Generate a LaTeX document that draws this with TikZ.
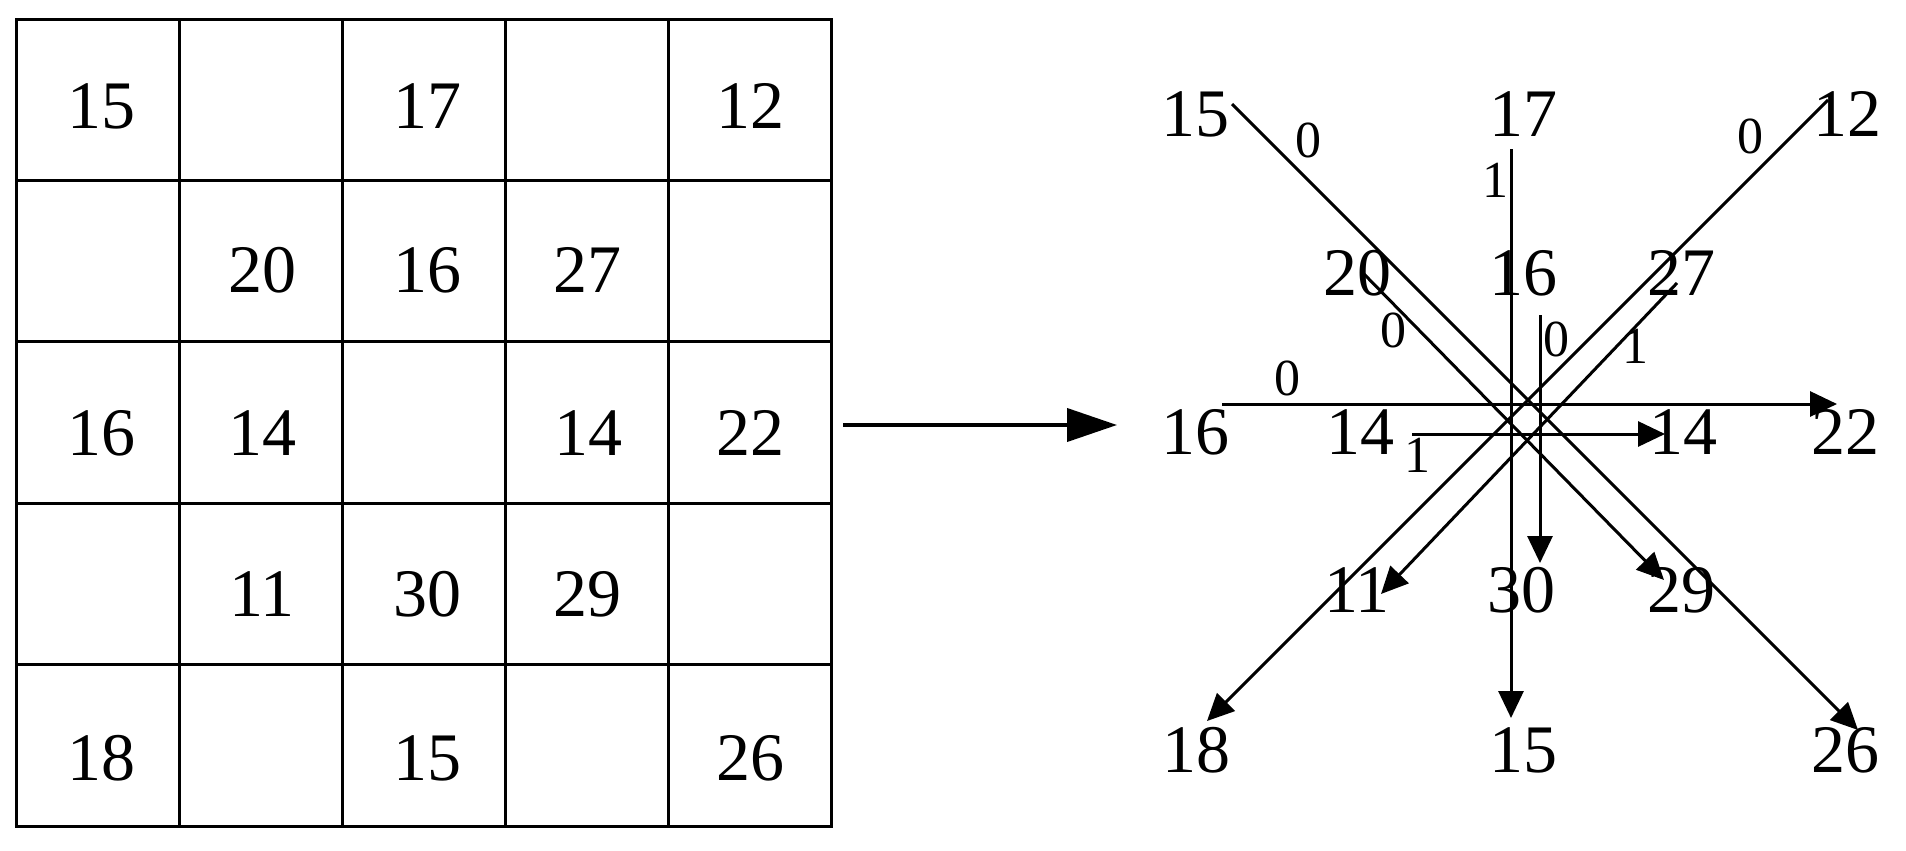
\documentclass[tikz,border=0pt]{standalone}
\usepackage{fontspec}
\setmainfont{Liberation Serif}
\usetikzlibrary{arrows.meta}
\begin{document}
\begin{tikzpicture}[x=0.5pt,y=-0.5pt,
  num/.style={inner sep=0pt, font=\fontsize{34}{40}\selectfont},
  lbl/.style={inner sep=0pt, font=\fontsize{26}{30}\selectfont},
  conn/.style={line width=1.5pt, -{Triangle[length=13.5pt,width=12.5pt]}},
  gridline/.style={line width=1.5pt},
  bigarrow/.style={line width=2pt, -{Triangle[length=25pt,width=16.5pt]}}]
\useasboundingbox (0,0) rectangle (1906,851);
% ---------- grid ----------
\draw[gridline] (16,19) rectangle (831,826);
\foreach \x in {179,342,505,668} \draw[gridline] (\x,19) -- (\x,826);
\foreach \y in {180.4,341.8,503.2,664.6} \draw[gridline] (16,\y) -- (831,\y);
\node[num] (g11) at (101,106) {15};
\node[num] (g13) at (427,106) {17};
\node[num] (g15) at (750,106) {12};
\node[num] (g22) at (262,270) {20};
\node[num] (g23) at (427,270) {16};
\node[num] (g24) at (587,270) {27};
\node[num] (g31) at (101,433) {16};
\node[num] (g32) at (262,433) {14};
\node[num] (g34) at (588,433) {14};
\node[num] (g35) at (750,433) {22};
\node[num] (g42) at (262,594) {11};
\node[num] (g43) at (427,594) {30};
\node[num] (g44) at (587,594) {29};
\node[num] (g51) at (101,758) {18};
\node[num] (g53) at (427,758) {15};
\node[num] (g55) at (750,758) {26};
% ---------- main arrow ----------
\coordinate (arrS) at (843,425);
\coordinate (arrE) at (1117,425);
\draw[bigarrow] (arrS) -- (arrE);
% ---------- right diagram labels ----------
\node[num] (r15) at (1195,114) {15};
\node[num] (r17) at (1523,114) {17};
\node[num] (r12) at (1847,114) {12};
\node[num] (r20) at (1357,273) {20};
\node[num] (r16m) at (1523,273) {16};
\node[num] (r27) at (1681,273) {27};
\node[num] (r16) at (1195,432) {16};
\node[num] (r14l) at (1360,432) {14};
\node[num] (r14r) at (1683,432) {14};
\node[num] (r22) at (1845,432) {22};
\node[num] (r11) at (1357,590) {11};
\node[num] (r30) at (1521,590) {30};
\node[num] (r29) at (1681,590) {29};
\node[num] (r18) at (1196,750) {18};
\node[num] (r15b) at (1523,750) {15};
\node[num] (r26) at (1845,750) {26};
% ---------- connector end points ----------
\coordinate (d15s) at (1232,104);
\coordinate (d26e) at (1858,730);
\coordinate (d12s) at (1828,100);
\coordinate (d18e) at (1207,721);
\coordinate (d20s) at (1362,272);
\coordinate (d29e) at (1664,580);
\coordinate (d27s) at (1677,283);
\coordinate (d11e) at (1381,594);
\coordinate (v17s) at (1511,149);
\coordinate (v15e) at (1511,718);
\coordinate (v16s) at (1540,315);
\coordinate (v30e) at (1540,563);
\coordinate (h16s) at (1222,404);
\coordinate (h22e) at (1837,404);
\coordinate (h14s) at (1412,434);
\coordinate (h14e) at (1665,434);
% ---------- connectors ----------
\draw[conn] (d15s) -- (d26e);
\draw[conn] (d12s) -- (d18e);
\draw[conn] (d20s) -- (d29e);
\draw[conn] (d27s) -- (d11e);
\draw[conn] (v17s) -- (v15e);
\draw[conn] (v16s) -- (v30e);
\draw[conn] (h16s) -- (h22e);
\draw[conn] (h14s) -- (h14e);
% ---------- small labels ----------
\node[lbl] (l1) at (1308,140) {0};
\node[lbl] (l2) at (1495,180) {1};
\node[lbl] (l3) at (1750,136) {0};
\node[lbl] (l4) at (1393,330) {0};
\node[lbl] (l5) at (1556,339) {0};
\node[lbl] (l6) at (1635,346) {1};
\node[lbl] (l7) at (1287,378) {0};
\node[lbl] (l8) at (1417,455) {1};
\end{tikzpicture}
\end{document}
